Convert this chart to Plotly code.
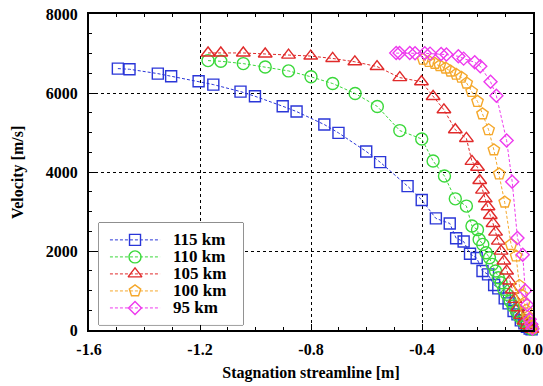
import plotly.graph_objects as go

# Velocity along the stagnation streamline for several altitudes
labels = ["115 km", "110 km", "105 km", "100 km", "95 km"]

x_115 = [-1.496, -1.454, -1.352, -1.304, -1.205, -1.152, -1.054, -1.002, -0.902, -0.852,
         -0.752, -0.701, -0.601, -0.551, -0.452, -0.401, -0.350, -0.300, -0.277, -0.250,
         -0.227, -0.203, -0.182, -0.162, -0.140, -0.125, -0.102, -0.088, -0.070, -0.056,
         -0.044, -0.031, -0.022, -0.012, -0.005]
v_115 = [6618, 6601, 6491, 6424, 6297, 6213, 6036, 5918, 5665, 5530,
         5201, 4991, 4520, 4250, 3642, 3293, 2825, 2698, 2324, 2240,
         1930, 1822, 1492, 1408, 1138, 1054, 801, 674, 481, 396,
         244, 169, 84, 34, 17]

x_110 = [-1.171, -1.125, -1.044, -0.965, -0.881, -0.800, -0.722, -0.641, -0.561, -0.480,
         -0.401, -0.360, -0.319, -0.280, -0.240, -0.220, -0.200, -0.194, -0.181, -0.169,
         -0.157, -0.147, -0.135, -0.125, -0.115, -0.105, -0.094, -0.082, -0.072, -0.060,
         -0.050, -0.037, -0.025, -0.012, -0.004]
v_110 = [6820, 6803, 6744, 6660, 6559, 6410, 6240, 5988, 5660, 5048,
         4837, 4280, 3897, 3320, 3137, 2632, 2540, 2293, 2167, 1956,
         1829, 1661, 1492, 1324, 1197, 1028, 902, 733, 607, 481,
         354, 228, 143, 59, 17]

x_105 = [-1.171, -1.125, -1.044, -0.965, -0.881, -0.801, -0.722, -0.642, -0.562, -0.480,
         -0.402, -0.360, -0.321, -0.280, -0.240, -0.220, -0.200, -0.192, -0.182, -0.172,
         -0.162, -0.154, -0.144, -0.135, -0.125, -0.115, -0.105, -0.095, -0.085, -0.075,
         -0.065, -0.055, -0.044, -0.032, -0.022, -0.012, -0.004]
v_105 = [7014, 7014, 7014, 6988, 6960, 6935, 6875, 6790, 6670, 6390,
         6285, 5912, 5575, 5070, 4850, 4268, 4120, 3785, 3541, 3321,
         3119, 2900, 2698, 2478, 2251, 1998, 1745, 1492, 1239, 1012,
         776, 565, 371, 228, 118, 42, 17]

x_100 = [-0.396, -0.375, -0.354, -0.336, -0.315, -0.297, -0.277, -0.258, -0.239, -0.221,
         -0.200, -0.182, -0.160, -0.141, -0.122, -0.102, -0.079, -0.061, -0.049, -0.040,
         -0.032, -0.025, -0.018, -0.012, -0.006, -0.002]
v_100 = [6853, 6797, 6748, 6692, 6630, 6553, 6473, 6397, 6250, 6038,
         5785, 5470, 5069, 4560, 3950, 3235, 2160, 1872, 1126, 880,
         680, 500, 340, 200, 100, 40]

x_95 = [-0.493, -0.481, -0.444, -0.425, -0.390, -0.371, -0.331, -0.312, -0.269, -0.250,
        -0.210, -0.190, -0.153, -0.132, -0.095, -0.075, -0.056, -0.037, -0.028, -0.021,
        -0.012, -0.006, -0.002]
v_95 = [7010, 7012, 7012, 7005, 7005, 6997, 6988, 6972, 6929, 6870,
        6778, 6677, 6284, 5930, 4798, 3754, 2328, 1906, 1000, 640,
        270, 143, 34]

x_ticks = [-1.6, -1.2, -0.8, -0.4, 0.0]
x_ticktext = ["-1.6", "-1.2", "-0.8", "-0.4", "0.0"]
y_ticks = [0, 2000, 4000, 6000, 8000]
y_ticktext = ["0", "2000", "4000", "6000", "8000"]

series = [
    (labels[0], x_115, v_115, "#2a36d8", "square-open", 11),
    (labels[1], x_110, v_110, "#3ad83a", "circle-open", 12),
    (labels[2], x_105, v_105, "#e02a2a", "triangle-up-open", 12),
    (labels[3], x_100, v_100, "#f5a82c", "pentagon-open", 12),
    (labels[4], x_95, v_95, "#ee3aee", "diamond-open", 10),
]

FONT = "Liberation Serif"
LINE_DASH = "3px,2px"


def bold(text):
    return "<b>" + text + "</b>"


fig = go.Figure()
for name, xs, vs, color, symbol, size in series:
    fig.add_trace(go.Scatter(
        x=xs, y=vs, name=name, mode="lines+markers",
        line=dict(color=color, width=1, dash=LINE_DASH),
        marker=dict(symbol=symbol, size=size, color=color,
                    line=dict(color=color, width=1.4)),
        cliponaxis=False, showlegend=False,
    ))

# Compact key box in the lower-left corner, drawn on its own hidden axes
# (rows 1..5 from the top, x in fractions of the box width).
key_x0, key_x1 = 0.0225, 0.347
key_y0, key_y1 = 0.016, 0.339
for i, (name, xs, vs, color, symbol, size) in enumerate(series):
    row = i + 1
    fig.add_trace(go.Scatter(
        x=[0.076, 0.424], y=[row, row], mode="lines",
        line=dict(color=color, width=1, dash=LINE_DASH),
        xaxis="x2", yaxis="y2", showlegend=False, hoverinfo="skip",
    ))
    fig.add_trace(go.Scatter(
        x=[0.25], y=[row], mode="markers",
        marker=dict(symbol=symbol, size=size, color=color,
                    line=dict(color=color, width=1.4)),
        xaxis="x2", yaxis="y2", showlegend=False, hoverinfo="skip",
    ))
    fig.add_annotation(
        x=0.5, y=row, xref="x2", yref="y2", text=bold(name), showarrow=False,
        xanchor="left", yanchor="middle",
        font=dict(family=FONT, size=17, color="black"),
    )

fig.add_shape(
    type="rect", xref="paper", yref="paper",
    x0=key_x0, x1=key_x1, y0=key_y0, y1=key_y1,
    line=dict(color="#333333", width=1), fillcolor="white", layer="between",
)

# Vertical axis title, placed a little further out than the default
fig.add_annotation(
    x=-0.16, y=0.5, xref="paper", yref="paper", text=bold("Velocity [m/s]"),
    showarrow=False, textangle=-90, xanchor="center", yanchor="middle",
    font=dict(family=FONT, size=16, color="black"),
)

axis_common = dict(
    showline=True, linecolor="black", linewidth=2, mirror="allticks",
    ticks="inside", ticklen=6, tickwidth=1, tickcolor="black",
    showgrid=True, gridcolor="black", gridwidth=1, griddash="dot",
    zeroline=False, automargin=False,
    tickfont=dict(family=FONT, size=16, color="black"),
)

fig.update_layout(
    width=543, height=386,
    margin=dict(l=89, r=10, t=14, b=56),
    paper_bgcolor="white", plot_bgcolor="white",
    showlegend=False,
    font=dict(family=FONT, color="black"),
    xaxis=dict(
        range=[-1.6, 0.0], tickmode="array",
        tickvals=x_ticks, ticktext=[bold(t) for t in x_ticktext],
        minor=dict(dtick=0.1, ticks="inside", ticklen=3, tickcolor="black", showgrid=False),
        title=dict(text=bold("Stagnation streamline [m]"), standoff=10,
                   font=dict(family=FONT, size=16, color="black")),
        ticklabelstandoff=4,
        **axis_common,
    ),
    yaxis=dict(
        range=[0, 8000], tickmode="array",
        tickvals=y_ticks, ticktext=[bold(t) for t in y_ticktext],
        minor=dict(dtick=500, ticks="inside", ticklen=3, tickcolor="black", showgrid=False),
        ticklabelstandoff=6,
        **axis_common,
    ),
    xaxis2=dict(domain=[key_x0, key_x1], range=[0, 1], visible=False, anchor="y2"),
    yaxis2=dict(domain=[key_y0, key_y1], range=[6, 0], visible=False, anchor="x2"),
)

fig.write_html("out.html")
